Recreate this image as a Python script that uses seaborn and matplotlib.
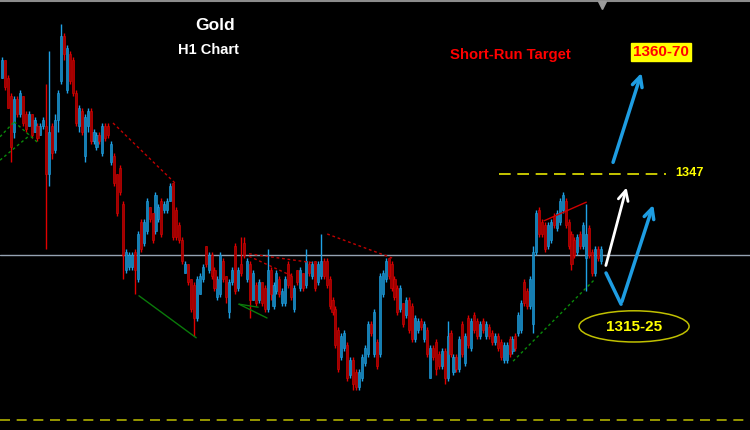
import matplotlib
matplotlib.use("Agg")
import matplotlib.pyplot as plt
from matplotlib.patches import Ellipse
import numpy as np
import pandas as pd
import seaborn as sns

# Hourly gold candles (price)
opens = [1363, 1366, 1363, 1360, 1354, 1359.5, 1357, 1360, 1357, 1355, 1357, 1354, 1355, 1353.5, 1355,
         1355, 1347, 1355, 1351, 1356, 1362.5, 1370, 1361, 1367, 1366, 1360.5, 1355, 1357.5, 1350, 1355,
         1357.5, 1352.5, 1351.5, 1353.5, 1350.5, 1355, 1355, 1349, 1350, 1347, 1348, 1342, 1331, 1331.5, 1331.5,
         1334, 1329.5, 1339, 1335.5, 1337.5, 1341.5, 1340.5, 1337.5, 1339.5, 1342.5, 1341, 1341, 1342.5, 1345.5, 1341,
         1338.5, 1336, 1330.5, 1332, 1329.5, 1328.5, 1323, 1327, 1329.5, 1335, 1331, 1333.5, 1331, 1326.5, 1327,
         1332.5, 1330, 1324, 1329, 1335, 1328, 1332, 1335.5, 1329.5, 1332, 1326, 1328.5, 1326, 1329, 1328,
         1324.5, 1331, 1325, 1327.5, 1329.5, 1325.5, 1325.5, 1332, 1330, 1324.5, 1331, 1328, 1330.5, 1328.5, 1332,
         1330, 1332.5, 1329, 1330, 1332.5, 1332.5, 1329.5, 1326, 1324.5, 1321, 1316.5, 1318, 1318.5, 1313.5, 1316,
         1314, 1311.5, 1313, 1315.5, 1317, 1322, 1317, 1319, 1317, 1327, 1329.5, 1333, 1332, 1329.5, 1328,
         1324.5, 1325.5, 1323.5, 1326, 1325, 1319.5, 1321, 1322.5, 1319.5, 1321, 1313, 1318, 1319, 1317, 1315,
         1317.5, 1313, 1320.5, 1314, 1316.5, 1314.5, 1322, 1315.5, 1323, 1318, 1323.5, 1322.5, 1320, 1322.5, 1320,
         1321.5, 1320.5, 1319, 1320, 1319, 1316, 1316, 1319.5, 1317.5, 1320, 1320.5, 1321, 1329, 1327.5, 1325,
         1322, 1334, 1341, 1339, 1338.5, 1335, 1336, 1340, 1338, 1339, 1341, 1342.5, 1339, 1337, 1336,
         1334, 1337, 1335, 1333, 1338, 1334, 1330.5, 1334.5, 1332.5]
highs = [1366.5, 1366, 1363.5, 1360.5, 1360, 1360, 1361, 1360, 1357.5, 1357.5, 1357, 1356.5, 1355.5, 1355.5, 1356.5,
         1362, 1367.5, 1355.5, 1357, 1361, 1372, 1370.5, 1368.5, 1367.5, 1366.5, 1361, 1358.5, 1358, 1357, 1358,
         1358, 1354.5, 1354, 1354, 1355.5, 1355.5, 1355.5, 1352.5, 1350.5, 1347, 1348.5, 1342.5, 1334.5, 1334, 1334,
         1334.5, 1337.5, 1339.5, 1339.5, 1343, 1341.5, 1340.5, 1344, 1342, 1343, 1342.5, 1343, 1345.5, 1345.5, 1341.5,
         1339, 1336.5, 1332.5, 1332, 1329.5, 1329, 1330, 1330.5, 1332, 1335, 1334, 1334, 1331.5, 1330, 1334,
         1333, 1330, 1329.5, 1331.5, 1335.5, 1331.5, 1336.5, 1336.5, 1333, 1332.5, 1331, 1329, 1329.5, 1329, 1328.5,
         1334.5, 1331.5, 1329, 1331, 1330, 1328, 1330, 1332.5, 1330.5, 1328.5, 1331, 1331.5, 1330.5, 1334.5, 1332.5,
         1332.5, 1332.5, 1332.5, 1337, 1333, 1333, 1330, 1326.5, 1325, 1321.5, 1320.5, 1321, 1319, 1316.5, 1316.5,
         1314.5, 1314.5, 1317, 1318.5, 1322.5, 1322.5, 1324.5, 1319.5, 1330.5, 1331, 1333, 1333, 1332.5, 1330, 1328.5,
         1328.5, 1325.5, 1326.5, 1326.5, 1325.5, 1323.5, 1323, 1323, 1322.5, 1321.5, 1318.5, 1318.5, 1319.5, 1317.5, 1318,
         1318, 1322.5, 1321, 1317, 1317, 1320, 1322.5, 1320.5, 1323.5, 1323, 1324, 1323, 1322.5, 1323, 1322.5,
         1322, 1321, 1320.5, 1320.5, 1319.5, 1319, 1319, 1320, 1320, 1320.5, 1324, 1326, 1329.5, 1328, 1330,
         1335, 1341, 1341.5, 1339.5, 1339, 1339, 1339.5, 1340.5, 1341, 1343, 1344, 1343, 1339.5, 1337.5, 1336.5,
         1337, 1337.5, 1339, 1342, 1338.5, 1334.5, 1335, 1335, 1335]
lows = [1363, 1361, 1358, 1349, 1353, 1356.5, 1356.5, 1355, 1354, 1355, 1353, 1354, 1352.5, 1353.5, 1354.5,
        1334.5, 1345, 1349.5, 1350.5, 1354, 1362, 1366, 1360.5, 1362, 1360, 1355, 1354, 1353.5, 1349, 1354,
        1352, 1352, 1351, 1352, 1350, 1352.5, 1353, 1348.5, 1345, 1340, 1343.5, 1329.5, 1330.5, 1331, 1331,
        1327, 1329, 1334, 1335, 1337, 1339, 1335.5, 1337, 1339, 1336.5, 1340.5, 1340.5, 1342.5, 1336, 1336,
        1335.5, 1332, 1330.5, 1328.5, 1324, 1320, 1322.5, 1327, 1329, 1331.5, 1330.5, 1329.5, 1327.5, 1326, 1326.5,
        1329, 1325.5, 1323, 1328.5, 1327, 1327.5, 1330, 1333, 1329, 1323, 1326, 1325, 1325.5, 1325, 1324,
        1324, 1326, 1324.5, 1327, 1326.5, 1325, 1325, 1328, 1326, 1324, 1328.5, 1327.5, 1327.5, 1328, 1330,
        1329.5, 1327.5, 1328.5, 1329.5, 1329.5, 1328, 1324.5, 1323.5, 1318, 1314, 1316, 1317.5, 1312.5, 1313, 1311,
        1311, 1311, 1312.5, 1315, 1316.5, 1320, 1316.5, 1314.5, 1316.5, 1326.5, 1329, 1329.5, 1327.5, 1326, 1323.5,
        1324, 1321.5, 1323, 1320.5, 1319, 1319, 1320.5, 1321, 1319, 1316.5, 1313, 1316, 1313.5, 1314.5, 1314.5,
        1312, 1312.5, 1316.5, 1313.5, 1314, 1314, 1316.5, 1315, 1318, 1317.5, 1320.5, 1319.5, 1319.5, 1320.5, 1319.5,
        1319.5, 1318.5, 1318.5, 1317.5, 1316, 1315.5, 1315.5, 1316.5, 1317, 1317.5, 1320, 1320.5, 1325, 1324.5, 1324.5,
        1320.5, 1333.5, 1336.5, 1336.5, 1334, 1334.5, 1335.5, 1338, 1337.5, 1338.5, 1340.5, 1338, 1334.5, 1331, 1333,
        1333.5, 1334.5, 1334.5, 1327.5, 1333, 1330, 1330, 1332.5, 1332]
closes = [1366, 1361.5, 1358, 1351.5, 1359.5, 1357, 1360.5, 1355.5, 1354.5, 1357, 1353.5, 1356, 1353, 1355, 1356,
          1347, 1354, 1350.5, 1356, 1360.5, 1370, 1367, 1368, 1362.5, 1360.5, 1355.5, 1358, 1354, 1356.5, 1357.5,
          1352.5, 1354, 1353.5, 1352.5, 1355, 1353, 1353.5, 1352, 1345.5, 1340.5, 1344, 1333.5, 1334, 1333.5, 1333.5,
          1331, 1337, 1334.5, 1339, 1342.5, 1339.5, 1336, 1343.5, 1341.5, 1337, 1342, 1342.5, 1345, 1336.5, 1336.5,
          1336, 1332.5, 1332, 1329, 1324.5, 1323, 1329.5, 1330, 1331.5, 1332, 1333.5, 1330, 1328, 1329.5, 1333.5,
          1329.5, 1326.5, 1329, 1331, 1327.5, 1331, 1330.5, 1333.5, 1332.5, 1326, 1330.5, 1325.5, 1329, 1325.5, 1324.5,
          1331, 1327, 1328.5, 1330.5, 1327, 1327.5, 1329.5, 1328.5, 1326.5, 1328, 1329, 1331, 1328, 1332.5, 1330.5,
          1332, 1328, 1332, 1332.5, 1330, 1328.5, 1325, 1324, 1318.5, 1314.5, 1320, 1320.5, 1313, 1316, 1312,
          1311.5, 1314, 1316.5, 1318, 1322, 1320.5, 1324, 1315, 1330, 1330.5, 1332.5, 1330, 1328, 1326.5, 1324,
          1328, 1322, 1326, 1321, 1319.5, 1323, 1322.5, 1321.5, 1322, 1317, 1318, 1316.5, 1314.5, 1315, 1317.5,
          1313, 1320, 1317, 1316.5, 1314.5, 1319.5, 1317, 1320, 1318.5, 1322.5, 1321, 1320, 1322, 1321, 1322,
          1320, 1319, 1320, 1318, 1316.5, 1318.5, 1318.5, 1317, 1319.5, 1318, 1323.5, 1325.5, 1325.5, 1325, 1329.5,
          1334, 1340.5, 1337, 1337, 1334.5, 1338.5, 1339, 1338.5, 1340.5, 1342.5, 1343.5, 1338.5, 1335, 1332, 1333.5,
          1336.5, 1335, 1338.5, 1337, 1333.5, 1330.5, 1334.5, 1333, 1334.5]

# Indicator lines, (bar index, price) end points
red_dotted = [((37.6, 1355.5), (58.6, 1345.5)), ((110.2, 1337), (132.2, 1333)),
              ((83.7, 1333.7), (105.4, 1332.2)), ((83.7, 1333.3), (98.3, 1330))]
red_solid = [((183.7, 1339.2), (198, 1342.3))]
green_dotted = [((173.2, 1315.8), (201, 1329.5)), ((-0.7, 1353.2), (4.1, 1355.7)),
                ((4.1, 1355.7), (12.2, 1352.2)), ((-0.7, 1349.3), (9.5, 1353.5))]
green_solid = [((46.4, 1326.7), (65.8, 1319.7)), ((80.3, 1325.3), (89.8, 1323)),
               ((80.3, 1325.3), (86.8, 1324.8))]

bid_price = 1333.5
target_level = 1347
lower_level = 1306

sns.set_theme(style="dark", rc={"axes.facecolor": "black", "figure.facecolor": "black"})
plt.rcParams["font.family"] = ["Liberation Sans", "DejaVu Sans"]

df = pd.DataFrame({"open": opens, "high": highs, "low": lows, "close": closes})
df["bar"] = np.arange(len(df))
up = df["close"] >= df["open"]

fig = plt.figure(figsize=(7.5, 4.3), dpi=100)
ax = fig.add_axes([0, 0, 1, 1])
ax.set_xlim(-0.7, 253.5)
ax.set_ylim(1304.33, 1376)

# candles
for mask, wick_col, body_col in [(up, "#1fa2e6", "#157fb2"), (~up, "#e00000", "#9e0000")]:
    sub = df[mask]
    ax.vlines(sub["bar"], sub["low"], sub["high"], color=wick_col, lw=1.0, zorder=3)
    ax.bar(sub["bar"], (sub["close"] - sub["open"]).abs().clip(lower=0.4),
           bottom=sub[["open", "close"]].min(axis=1), width=0.7,
           color=body_col, edgecolor=wick_col, linewidth=0.4, zorder=4)


def draw_segments(segments, color, style, lw):
    rows = []
    for k, (a, b) in enumerate(segments):
        rows.append({"seg": k, "x": a[0], "y": a[1]})
        rows.append({"seg": k, "x": b[0], "y": b[1]})
    seg_df = pd.DataFrame(rows)
    sns.lineplot(data=seg_df, x="x", y="y", units="seg", estimator=None, sort=False,
                 color=color, linestyle=style, lw=lw, ax=ax, zorder=5)


draw_segments(red_dotted, "#c00000", (0, (2, 2)), 1.0)
draw_segments(red_solid, "#d00000", "-", 1.0)
draw_segments(green_dotted, "#0a8a0a", (0, (2, 2)), 1.0)
draw_segments(green_solid, "#0a7a0a", "-", 1.0)
ax.set_axis_off()

# horizontal levels
ax.axhline(bid_price, color="#95a2b2", lw=1.0, zorder=2)
ax.axhline(1375.75, color="#8c8c8c", lw=1.5, zorder=2)
ax.plot([203.4], [1375.2], marker="v", color="#9a9a9a", ms=6, zorder=6)
ax.hlines(target_level, 168.5, 225.1, color="#e6e600", lw=1.2, linestyles=(0, (7, 4)), zorder=2)
ax.axhline(lower_level, color="#b0b000", lw=1.2, linestyle=(0, (6, 4)), zorder=2)

# projected path arrows
arrow_kw = dict(arrowstyle="->,head_length=0.6,head_width=0.3", lw=2.5, color="#1e9de2")
ax.annotate("", xy=(217, 1364.3), xytext=(206.8, 1348.5), arrowprops=arrow_kw, zorder=7)
ax.plot([204.7, 209.8], [1330.5, 1325.3], color="#1e9de2", lw=2.5, solid_capstyle="round", zorder=7)
ax.annotate("", xy=(221, 1342.3), xytext=(209.8, 1325.3), arrowprops=arrow_kw, zorder=7)
ax.annotate("", xy=(211.9, 1345.2), xytext=(204.4, 1331.3),
            arrowprops=dict(arrowstyle="->,head_length=0.6,head_width=0.3", lw=2.0, color="white"), zorder=7)

# labels
ax.text(72.2, 1371.7, "Gold", color="white", fontsize=12.5, fontweight="bold", ha="center", va="center")
ax.text(69.8, 1367.7, "H1 Chart", color="white", fontsize=10.5, fontweight="bold", ha="center", va="center")
ax.text(172.2, 1366.8, "Short-Run Target", color="#ff0000", fontsize=10.7, fontweight="bold",
        ha="center", va="center")
ax.text(223.4, 1367.3, "1360-70", color="#ff0000", fontsize=11, fontweight="bold", ha="center", va="center",
        bbox=dict(boxstyle="square,pad=0.15", fc="#ffff00", ec="#ffff00"))
ax.text(232.9, 1347.2, "1347", color="#ffff00", fontsize=9.2, fontweight="bold", ha="center", va="center")
ax.add_patch(Ellipse((214.2, 1321.6), 37.3, 5.2, fill=False, ec="#c0c000", lw=1.1, zorder=6))
ax.text(214.2, 1321.5, "1315-25", color="#ffff00", fontsize=11, fontweight="bold", ha="center", va="center")

plt.savefig("out.png", dpi=100, facecolor="black")
